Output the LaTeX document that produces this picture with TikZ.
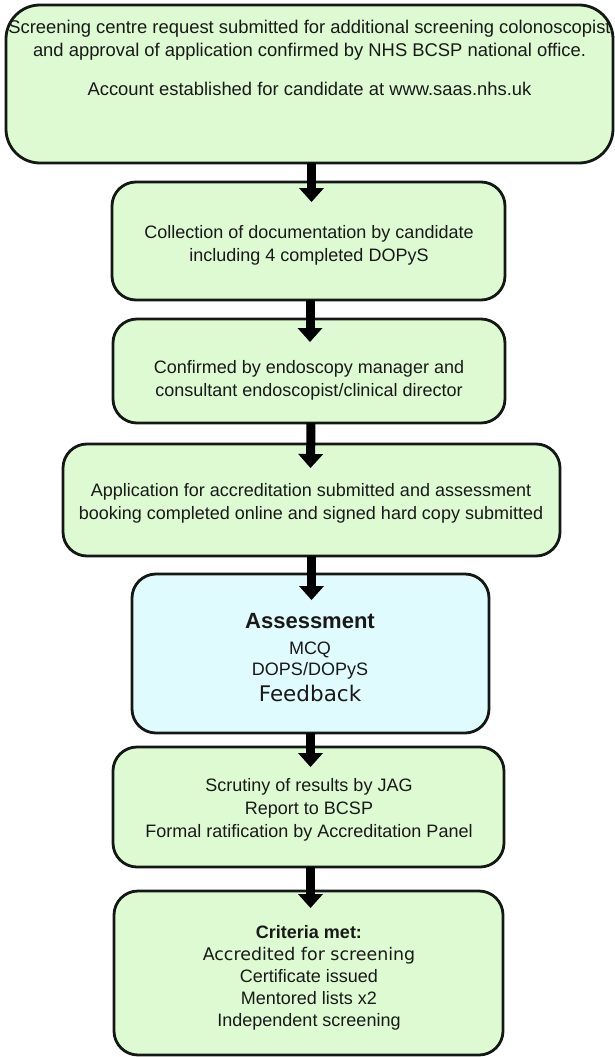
\documentclass[tikz,border=0pt]{standalone}
\usepackage{fontspec}
\setmainfont{Liberation Sans}
\newfontfamily\dvfont{DejaVu Sans}
\usetikzlibrary{arrows.meta}
\definecolor{boxgreen}{RGB}{221,250,210}
\definecolor{boxblue}{RGB}{224,251,253}
\definecolor{txt}{RGB}{25,25,25}
\definecolor{edge}{RGB}{20,24,20}
\begin{document}
\begin{tikzpicture}[x=1pt,y=-1pt,
  flowbox/.style={draw=edge, line width=2.8pt, fill=boxgreen, rounded corners=24pt, inner sep=0pt, outer sep=0pt},
  txtlabel/.style={text=txt, align=center, font=\fontsize{18}{23}\selectfont, inner sep=0pt},
  flowarrow/.style={draw=black, line width=9pt, -{Triangle[width=25pt,length=14pt,line width=0pt]}}]
\useasboundingbox (0,0) rectangle (614,1057);
\node[flowbox, rounded corners=34pt, minimum width=607pt, minimum height=158pt] (b1) at (309.5,84) {};
\node[flowbox, minimum width=393pt, minimum height=118pt] (b2) at (308.5,241) {};
\node[flowbox, minimum width=392pt, minimum height=104pt] (b3) at (309,371) {};
\node[flowbox, minimum width=497pt, minimum height=112pt] (b4) at (311.5,500) {};
\node[flowbox, fill=boxblue, minimum width=357pt, minimum height=159pt] (b5) at (310.5,653.5) {};
\node[flowbox, minimum width=391pt, minimum height=120pt] (b6) at (308.5,807) {};
\node[flowbox, minimum width=389pt, minimum height=164pt] (b7) at (308.5,973) {};

\node[txtlabel, font=\fontsize{18.4}{23}\selectfont] (t1) at (309.5,58) {Screening centre request submitted for additional screening colonoscopist\\and approval of application confirmed by NHS BCSP national office.\\[16pt]Account established for candidate at www.saas.nhs.uk};
\node[txtlabel] (t2) at (309,245) {Collection of documentation by candidate\\including 4 completed DOPyS};
\node[txtlabel] (t3) at (309,380) {Confirmed by endoscopy manager and\\consultant endoscopist/clinical director};
\node[txtlabel] (t4) at (311,503) {Application for accreditation submitted and assessment\\booking completed online and signed hard copy submitted};
\node[txtlabel] (t5) at (310,658) {{\bfseries\fontsize{22}{23}\selectfont Assessment}\\[3pt]MCQ\\[-2pt]DOPS/DOPyS\\[3pt]{\dvfont\fontsize{21.5}{23}\selectfont Feedback}};
\node[txtlabel] (t6) at (309,810) {Scrutiny of results by JAG\\Report to BCSP\\Formal ratification by Accreditation Panel};
\node[txtlabel, font=\fontsize{18}{22}\selectfont] (t7) at (309,978) {{\bfseries Criteria met:}\\{\dvfont\fontsize{17.4}{22}\selectfont Accredited for screening}\\Certificate issued\\Mentored lists x2\\Independent screening};

\draw[flowarrow] ([xshift=2pt]b1.south) -- ([xshift=3pt,yshift=-20pt]b2.north);
\draw[flowarrow] ([xshift=1.5pt]b2.south) -- ([xshift=1pt,yshift=-23pt]b3.north);
\draw[flowarrow] ([xshift=2pt]b3.south) -- ([xshift=-1pt,yshift=-24pt]b4.north);
\draw[flowarrow] (b4.south) -- ([xshift=1pt,yshift=-26pt]b5.north);
\draw[flowarrow] (b5.south) -- ([xshift=2pt,yshift=-20pt]b6.north);
\draw[flowarrow] ([xshift=2pt]b6.south) -- ([xshift=2pt,yshift=-17pt]b7.north);
\end{tikzpicture}
\end{document}
